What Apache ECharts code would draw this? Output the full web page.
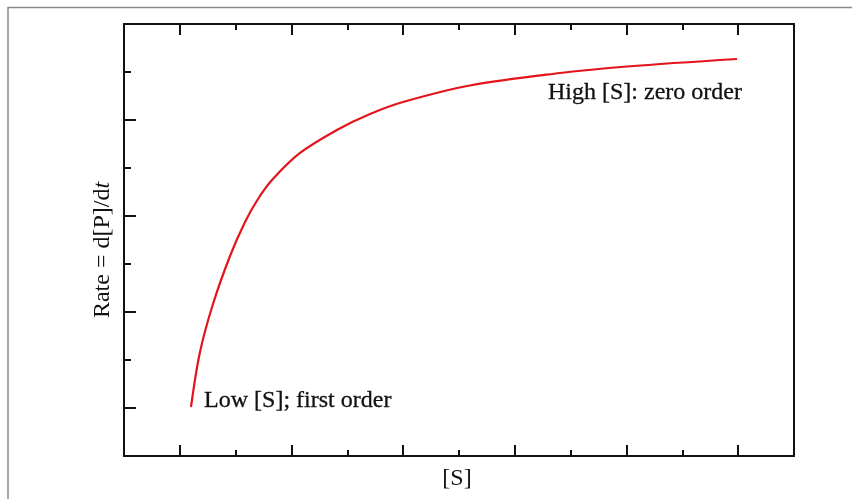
<!DOCTYPE html>
<html>
<head>
<meta charset="utf-8">
<script src="https://cdn.jsdelivr.net/npm/echarts@6/dist/echarts.min.js"></script>
<style>
html,body{margin:0;padding:0;background:#fff;}
#chart{width:862px;height:499px;}
</style>
</head>
<body>
<div id="chart"></div>
<script>
// ---- data ----
var curveX = [1.200, 1.361, 1.594, 1.899, 2.168, 2.400, 2.651, 3.152, 3.830, 4.406, 4.997, 6.197, 7.810, 9.010, 10.980];
var curveY = [1.021, 2.167, 3.167, 4.167, 4.875, 5.354, 5.750, 6.313, 6.802, 7.125, 7.375, 7.719, 7.979, 8.115, 8.271];
var xMajorTicks = [1, 3, 5, 7, 9, 11];
var xMinorTicks = [2, 4, 6, 8, 10];
var yMajorTicks = [1, 3, 5, 7];
var yMinorTicks = [2, 4, 6, 8];
var xRange = [0, 12];
var yRange = [0, 9];
var annotationText = ['Low [S]; first order', 'High [S]: zero order'];
var annotationX = [1.43, 7.59];
var annotationY = [1.16, 7.56];
var xName = '[S]';
var yName = 'Rate = d[P]/d{i|t}';

var serif = '"Liberation Serif", "Times New Roman", "DejaVu Serif", serif';
var ink = '#111';

var chart = echarts.init(document.getElementById('chart'));

function xAxisDef(pos, ticks, len, showLine, name) {
  return {
    type: 'value', position: pos, min: xRange[0], max: xRange[1],
    name: name || '', nameLocation: 'middle', nameGap: 11,
    nameTextStyle: {fontFamily: serif, fontSize: 24, color: ink, verticalAlign: 'top', padding: [0, 4, 0, 0]},
    axisLine: {show: showLine, onZero: false, lineStyle: {color: ink, width: 2}},
    axisTick: {show: true, inside: true, length: len, customValues: ticks, lineStyle: {color: ink, width: 2}},
    axisLabel: {show: false},
    splitLine: {show: false}
  };
}
function yAxisDef(pos, ticks, len, showLine, name) {
  return {
    type: 'value', position: pos, min: yRange[0], max: yRange[1],
    name: name || '', nameLocation: 'middle', nameGap: 9,
    nameTextStyle: {fontFamily: serif, fontSize: 24, color: ink, padding: [0, 20, 0, 0],
      rich: {i: {fontFamily: serif, fontSize: 24, fontStyle: 'italic', color: ink}}},
    axisLine: {show: showLine, onZero: false, lineStyle: {color: ink, width: 2}},
    axisTick: {show: ticks.length > 0, inside: true, length: len, customValues: ticks, lineStyle: {color: ink, width: 2}},
    axisLabel: {show: false},
    splitLine: {show: false}
  };
}

var curveData = curveX.map(function (x, i) { return [x, curveY[i]]; });
var annData = annotationText.map(function (t, i) { return {value: [annotationX[i], annotationY[i]], name: t}; });

chart.setOption({
  backgroundColor: '#fff',
  animation: false,
  grid: {left: 124, top: 24, right: 68, bottom: 43, show: false},
  xAxis: [
    xAxisDef('bottom', xMajorTicks, 11, true, xName),
    xAxisDef('bottom', xMinorTicks, 6, false),
    xAxisDef('top', xMajorTicks, 11, true),
    xAxisDef('top', xMinorTicks, 6, false)
  ],
  yAxis: [
    yAxisDef('left', yMajorTicks, 12, true, yName),
    yAxisDef('left', yMinorTicks, 7, false),
    yAxisDef('right', [], 0, true)
  ],
  graphic: [
    {type: 'polyline', silent: true, z: -1,
     shape: {points: [[8, 510], [8, 7.5], [852, 7.5]]},
     style: {stroke: '#8a8a8a', lineWidth: 1.5, fill: null}}
  ],
  series: [
    {
      type: 'line', xAxisIndex: 0, yAxisIndex: 0,
      data: curveData, smooth: 0.35, showSymbol: false,
      lineStyle: {color: '#e3141c', width: 2.2}
    },
    {
      type: 'scatter', xAxisIndex: 0, yAxisIndex: 0, z: 5,
      data: annData, symbolSize: 0.5, itemStyle: {color: '#ffffff', opacity: 1},
      label: {show: true, position: 'right', distance: 0, formatter: '{b}',
        fontFamily: serif, fontSize: 24, color: ink, opacity: 1,
        textBorderColor: ink, textBorderWidth: 0.3,
        align: 'left', verticalAlign: 'middle'}
    }
  ]
});
</script>
</body>
</html>
